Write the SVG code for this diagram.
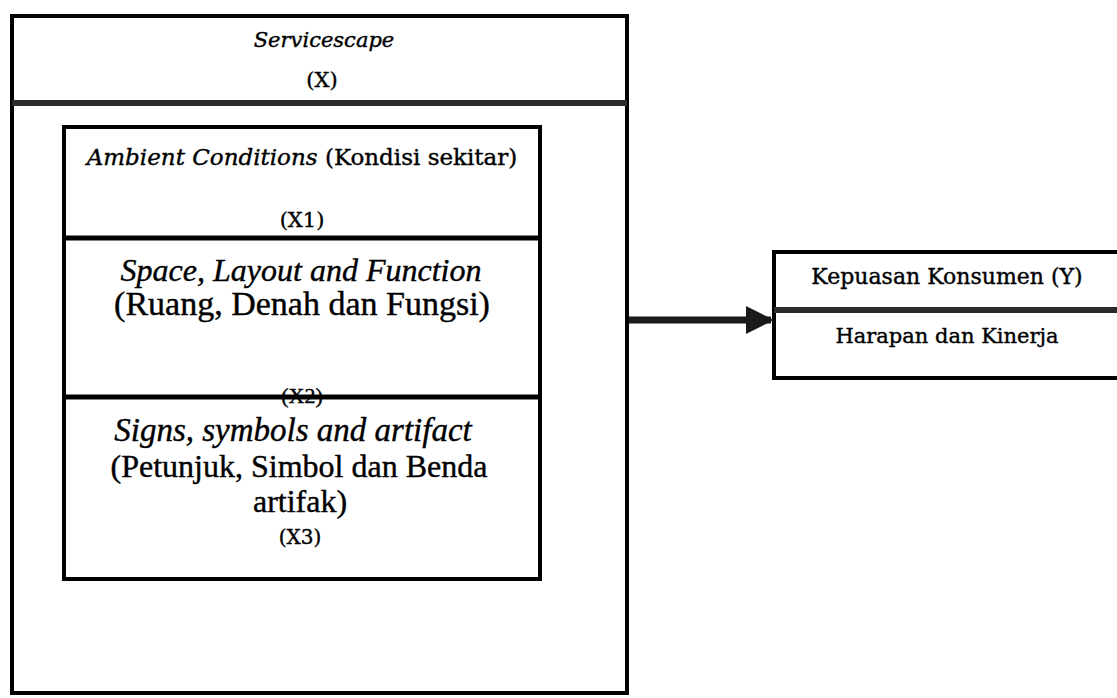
<svg xmlns="http://www.w3.org/2000/svg" width="1117" height="698" viewBox="0 0 1117 698">
  <style>
    .box { fill: #fff; stroke: #000; stroke-width: 4; }
    .div { stroke: #2b2b2b; stroke-width: 6; }
    .rule { stroke: #000; stroke-width: 5; }
    text { fill: #000; text-anchor: middle; stroke: #000; stroke-width: 0.4; }
    .bk { font-family: "DejaVu Serif", "Bookman Old Style", serif; }
    .tm { font-family: "Liberation Serif", "Times New Roman", serif; }
    .it { font-style: italic; }
  </style>
  <defs>
    <marker id="head" markerWidth="4" markerHeight="4" refX="3.6" refY="2" orient="auto" markerUnits="strokeWidth">
      <path d="M0,0 L4,2 L0,4 Z" fill="#1a1a1a"/>
    </marker>
  </defs>

  <!-- Servicescape (X) container -->
  <g id="node-servicescape">
    <rect class="box" x="12" y="16" width="615" height="677"/>
    <line class="div" x1="12" y1="103" x2="627" y2="103"/>
    <text class="bk it" x="324" y="47" font-size="21">Servicescape</text>
    <text class="bk" x="322" y="87" font-size="21">(X)</text>
  </g>

  <!-- Dimensions X1–X3 -->
  <g id="node-dimensions">
    <rect class="box" x="64" y="127" width="476" height="452"/>
    <line class="rule" x1="64" y1="238" x2="540" y2="238"/>
    <line class="rule" x1="64" y1="397" x2="540" y2="397"/>
  </g>

  <g id="node-x1">
    <text class="bk" x="302" y="165" font-size="23"><tspan class="it">Ambient Conditions</tspan> (Kondisi sekitar)</text>
    <text class="bk" x="302" y="227" font-size="21">(X1)</text>
  </g>

  <g id="node-x2">
    <text class="tm it" x="301" y="281" font-size="32">Space, Layout and Function</text>
    <text class="tm" x="302" y="315" font-size="34">(Ruang, Denah dan Fungsi)</text>
    <text class="tm" x="302" y="403" font-size="22">(X2)</text>
  </g>

  <g id="node-x3">
    <text class="tm it" x="293" y="441" font-size="33">Signs, symbols and artifact</text>
    <text class="tm" x="299" y="477" font-size="32">(Petunjuk, Simbol dan Benda</text>
    <text class="tm" x="300" y="512" font-size="32">artifak)</text>
    <text class="bk" x="300" y="544" font-size="20">(X3)</text>
  </g>

  <!-- Kepuasan Konsumen (Y) -->
  <g id="node-y">
    <rect class="box" x="774" y="252" width="350" height="126"/>
    <line class="div" x1="774" y1="310" x2="1117" y2="310"/>
    <text class="bk" x="947" y="284" font-size="22">Kepuasan Konsumen (Y)</text>
    <text class="bk" x="947" y="343" font-size="21">Harapan dan Kinerja</text>
  </g>

  <g id="connectors">
    <line x1="629" y1="320" x2="771" y2="320" stroke="#1a1a1a" stroke-width="7" marker-end="url(#head)"/>
  </g>
</svg>
